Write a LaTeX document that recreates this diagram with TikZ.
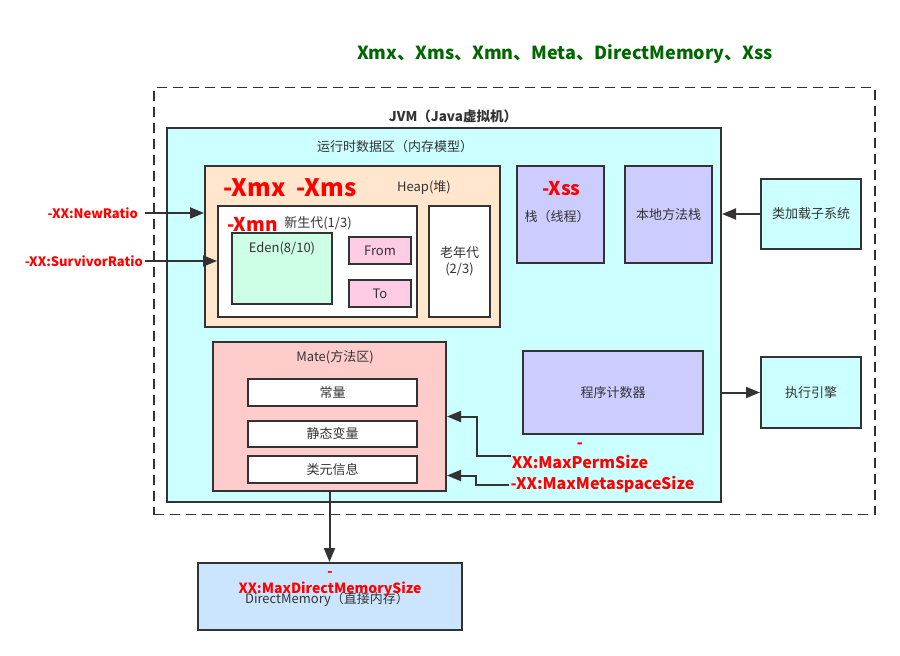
\documentclass[tikz,border=0pt]{standalone}
\usepackage{fontspec}
\setmainfont{Noto Sans CJK SC}
\usepackage{xcolor}
\usetikzlibrary{arrows.meta, positioning, calc}

\definecolor{linegray}{HTML}{333333}
\definecolor{textgray}{HTML}{333333}
\definecolor{paramred}{HTML}{FF0000}
\definecolor{titlegreen}{HTML}{006600}
\definecolor{cyanfill}{HTML}{CCFFFF}
\definecolor{heapfill}{HTML}{FFE6CC}
\definecolor{edenfill}{HTML}{CCFFE6}
\definecolor{pinkfill}{HTML}{FFCCE6}
\definecolor{stackfill}{HTML}{CCCCFF}
\definecolor{methodfill}{HTML}{FFCCCC}
\definecolor{directfill}{HTML}{CCE5FF}

\newcommand{\fs}[2]{\fontsize{#1}{#2}\selectfont}

\begin{document}
\begin{tikzpicture}[
  x=1pt, y=-1pt,
  font=\fs{13}{16},
  block/.style={
    rectangle,
    draw=linegray,
    line width=2pt,
    text=textgray,
    align=center,
    inner sep=0pt,
  },
  txt/.style={
    text=textgray,
    align=center,
    inner sep=1pt,
  },
  param/.style={
    text=paramred,
    align=center,
    inner sep=1pt,
    font=\bfseries\fs{13}{17},
  },
  arrow/.style={-{Triangle[length=14pt, width=11pt]}, draw=linegray, line width=2pt}
]
\useasboundingbox (0,0) rectangle (900,656);

% ===== TITLE =====
\node[text=titlegreen, font=\bfseries\fs{18}{22}] (title) at (565,54)
  {Xmx、Xms、Xmn、Meta、DirectMemory、Xss};

% ===== JVM AND RUNTIME AREA =====
\node[draw=linegray, line width=1.8pt, dash pattern=on 10pt off 6pt,
  minimum width=721pt, minimum height=427pt] (jvm) at (514.5,301) {};
\node[txt, font=\bfseries\fs{13.5}{16}] (jvmlbl) at (453,116) {JVM（Java虚拟机）};

\node[block, fill=cyanfill, minimum width=554pt, minimum height=374pt] (rt) at (444,315) {};
\node[txt] (rtlbl) at (395,147) {运行时数据区（内存模型）};

% ===== HEAP =====
\node[block, fill=heapfill, minimum width=295pt, minimum height=161pt] (heap) at (352.5,246.5) {};
\node[param, font=\bfseries\fs{24}{28}] (xmx) at (290,188) {-Xmx\hspace{0.45em}-Xms};
\node[txt] (heaplbl) at (424,188) {Heap(堆)};

\node[block, fill=white, minimum width=199pt, minimum height=111pt] (young) at (317.5,261.5) {};
\node[param, font=\bfseries\fs{19}{22}] (xmn) at (252.5,224) {-Xmn};
\node[txt] (younglbl) at (318,223) {新生代(1/3)};

\node[block, fill=edenfill, minimum width=100pt, minimum height=71pt] (eden) at (282,268.5) {};
\node[txt] (edenlbl) at ([yshift=20pt]eden.center) {Eden(8/10)};
\node[block, fill=pinkfill, minimum width=62pt, minimum height=27pt] (from) at (380,250.5) {From};
\node[block, fill=pinkfill, minimum width=62pt, minimum height=27pt] (to) at (380,293.5) {To};

\node[block, fill=white, minimum width=61pt, minimum height=111pt] (old) at (459.5,261.5) {老年代\\(2/3)};

% ===== STACKS =====
\node[block, fill=stackfill, minimum width=87pt, minimum height=97pt] (stack) at (560.5,214.5) {};
\node[param, font=\bfseries\fs{19}{22}] (xss) at (561.5,189) {-Xss};
\node[txt] (stacklbl) at (557,217) {栈（线程）};
\node[block, fill=stackfill, minimum width=87pt, minimum height=97pt] (native) at (668.5,214.5) {本地方法栈};

\node[block, fill=stackfill, minimum width=180pt, minimum height=83pt] (pc) at (613,392.5) {程序计数器};

% ===== METHOD AREA =====
\node[block, fill=methodfill, minimum width=233pt, minimum height=149pt] (method) at (329.5,416.5) {};
\node[txt] (methodlbl) at (335,357) {Mate(方法区)};
\node[block, fill=white, minimum width=169pt, minimum height=27pt] (const) at (332.5,392.5) {常量};
\node[block, fill=white, minimum width=169pt, minimum height=26pt] (static) at (332.5,434) {静态变量};
\node[block, fill=white, minimum width=169pt, minimum height=27pt] (classinfo) at (332.5,469.5) {类元信息};

% ===== OUTSIDE BLOCKS =====
\node[block, fill=cyanfill, minimum width=100pt, minimum height=70pt] (loader) at (811,214) {类加载子系统};
\node[block, fill=cyanfill, minimum width=100pt, minimum height=71pt] (engine) at (811,392.5) {执行引擎};

\node[block, fill=directfill, minimum width=264pt, minimum height=67pt] (direct) at (330,596.5) {};
\node[txt] (directlbl) at (327,599) {DirectMemory（直接内存）};
\node[param, font=\bfseries\fs{14}{17}] (directparam) at (330,584) {-\\XX:MaxDirectMemorySize};

% ===== PARAMETER ARROWS =====
\coordinate (nr) at (145,213);
\node[param, left=6pt of nr] (nrlbl) {-XX:NewRatio};
\draw[arrow] (nr) -- (nr -| heap.west);

\coordinate (sr) at (145,261);
\node[param, left=1pt of sr] (srlbl) {-XX:SurvivorRatio};
\draw[arrow] (sr) -- (sr -| young.west);

\node[param, font=\bfseries\fs{16}{20}] (permlbl) at (580,456) {-\\XX:MaxPermSize};
\draw[arrow] (permlbl.west) -- ++(-34,0) |- (method.east);

\node[param, font=\bfseries\fs{16}{19}] (metalbl) at (602.5,485) {-XX:MaxMetaspaceSize};
\draw[arrow] (metalbl.west) -- ++(-33,0) |- ([yshift=-59pt]method.east);

% ===== OTHER ARROWS =====
\draw[arrow] (loader.west) -- (loader.west -| rt.east);
\draw[arrow] (engine.west -| rt.east) -- (engine.west);
\draw[arrow] (method.south) -- (method.south |- direct.north);

\end{tikzpicture}
\end{document}
